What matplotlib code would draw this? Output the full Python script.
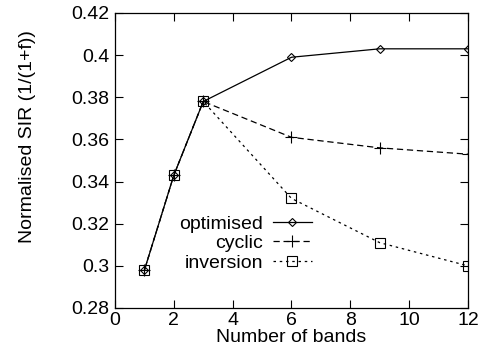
import matplotlib
matplotlib.use("Agg")
import matplotlib.pyplot as plt

plt.rcParams['font.family'] = ['Liberation Sans', 'DejaVu Sans']

bands = [1, 2, 3, 6, 9, 12]
optimised = [0.298, 0.343, 0.378, 0.399, 0.403, 0.403]
cyclic = [0.298, 0.343, 0.378, 0.361, 0.356, 0.353]
inversion = [0.298, 0.343, 0.378, 0.332, 0.311, 0.300]

xticks = [0, 2, 4, 6, 8, 10, 12]
yticks = [0.28, 0.3, 0.32, 0.34, 0.36, 0.38, 0.4, 0.42]
ytick_labels = ["0.28", "0.3", "0.32", "0.34", "0.36", "0.38", "0.4", "0.42"]

fs = 14

fig = plt.figure(figsize=(4.78, 3.58), dpi=100)
ax = fig.add_axes([0.2406, 0.1397, 0.7384, 0.824])

ax.plot(bands, optimised, color='black', lw=0.9, ls='-', marker='D', ms=4.5,
        mfc='none', mew=0.8, label='optimised')
ax.plot(bands, cyclic, color='black', lw=0.9, ls=(0, (5, 3)), marker='+', ms=8,
        mew=0.8, label='cyclic')
ax.plot(bands, inversion, color='black', lw=0.9, ls=(0, (2, 3)), marker='s', ms=7,
        mfc='none', mew=0.8, label='inversion')

ax.set_xlim(0, 12)
ax.set_ylim(0.28, 0.42)
ax.set_xticks(xticks)
ax.set_yticks(yticks)
ax.set_yticklabels(ytick_labels)
ax.tick_params(direction='in', length=6, width=0.8, top=True, right=True,
               labelsize=fs, pad=4)
ax.tick_params(axis='x', pad=3)
for s in ax.spines.values():
    s.set_linewidth(0.9)

ax.set_xlabel("Number of bands", fontsize=fs, labelpad=0)
ax.set_ylabel("Normalised SIR (1/(1+f))", fontsize=fs)
ax.yaxis.set_label_coords(-0.225, 0.58)

leg = ax.legend(loc='lower left', bbox_to_anchor=(0.155, 0.09), frameon=False,
                fontsize=fs, markerfirst=False, handlelength=2.0,
                handletextpad=0.5, labelspacing=0.1, borderpad=0)
leg._legend_box.align = "right"

fig.savefig("out.png", dpi=100)
